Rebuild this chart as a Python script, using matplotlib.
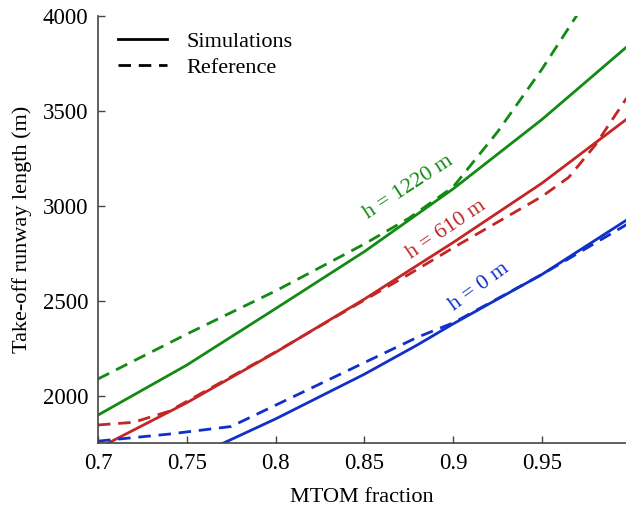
import numpy as np
import matplotlib.pyplot as plt

plt.rcParams['font.family'] = ['Liberation Serif', 'DejaVu Serif']

# simulated take-off runway length (m) vs MTOM fraction
sim_x_0 = [0.77, 0.80, 0.85, 0.88, 0.90, 0.95, 1.00]
sim_0 = [1750, 1880, 2115, 2270, 2380, 2640, 2940]
sim_x_610 = [0.70, 0.75, 0.80, 0.85, 0.90, 0.95, 1.00]
sim_610 = [1725, 1965, 2230, 2510, 2808, 3120, 3473]
sim_x_1220 = [0.70, 0.75, 0.80, 0.85, 0.90, 0.95, 1.00]
sim_1220 = [1900, 2163, 2460, 2760, 3090, 3455, 3855]

# reference data
ref_x_0 = [0.70, 0.74, 0.775, 0.80, 0.85, 0.88, 0.90, 0.95, 1.00]
ref_0 = [1763, 1800, 1840, 1952, 2176, 2310, 2385, 2640, 2915]
ref_x_610 = [0.70, 0.72, 0.74, 0.80, 0.85, 0.875, 0.90, 0.925, 0.95, 0.965, 0.98, 1.00]
ref_610 = [1848, 1862, 1920, 2232, 2505, 2640, 2780, 2915, 3050, 3150, 3320, 3600]
ref_x_1220 = [0.70, 0.75, 0.80, 0.85, 0.875, 0.90, 0.925, 0.95, 0.975]
ref_1220 = [2090, 2326, 2553, 2800, 2935, 3100, 3390, 3720, 4080]

green = '#138a13'
red = '#c42626'
blue = '#1030c8'

fig = plt.figure(figsize=(6.26, 5.11), dpi=100)
ax = fig.add_axes([0.1565, 0.133, 0.8435, 0.836])

lw = 2.0
ax.plot(sim_x_1220, sim_1220, color=green, lw=lw)
ax.plot(ref_x_1220, ref_1220, color=green, lw=lw, dashes=(4.5, 2.8))
ax.plot(sim_x_610, sim_610, color=red, lw=lw)
ax.plot(ref_x_610, ref_610, color=red, lw=lw, dashes=(4.5, 2.8))
ax.plot(sim_x_0, sim_0, color=blue, lw=lw)
ax.plot(ref_x_0, ref_0, color=blue, lw=lw, dashes=(4.5, 2.8))

# legend
ax.plot([], [], color='black', lw=lw, label='Simulations')
ax.plot([], [], color='black', lw=lw, dashes=(4.5, 2.8), label='Reference')
leg = ax.legend(loc='upper left', frameon=False, fontsize=16,
                handlelength=2.2, handletextpad=0.9, borderaxespad=0.3,
                labelspacing=0.25)
leg.set_bbox_to_anchor((0.008, 1.0))

# curve labels
ax.text(0.875, 3100, 'h = 1220 m', color=green, fontsize=16, rotation=33,
        ha='center', va='center')
ax.text(0.896, 2874, 'h = 610 m', color=red, fontsize=16, rotation=34,
        ha='center', va='center')
ax.text(0.9145, 2574, 'h = 0 m', color=blue, fontsize=16, rotation=36,
        ha='center', va='center')

ax.set_xlim(0.7, 0.9973)
ax.set_ylim(1753, 4000)
ax.set_xticks([0.7, 0.75, 0.8, 0.85, 0.9, 0.95])
ax.set_xticklabels(['0.7', '0.75', '0.8', '0.85', '0.9', '0.95'])
ax.set_yticks([2000, 2500, 3000, 3500, 4000])

for s in ['top', 'right']:
    ax.spines[s].set_visible(False)
for s in ['left', 'bottom']:
    ax.spines[s].set_color('#444444')
    ax.spines[s].set_linewidth(1.2)
ax.tick_params(direction='in', length=5, width=1, color='#444444',
               labelsize=16.5, pad=7)

ax.set_xlabel('MTOM fraction', fontsize=16, labelpad=10)
ax.set_ylabel('Take-off runway length (m)', fontsize=16, labelpad=8)

fig.savefig('out.png', dpi=100)
